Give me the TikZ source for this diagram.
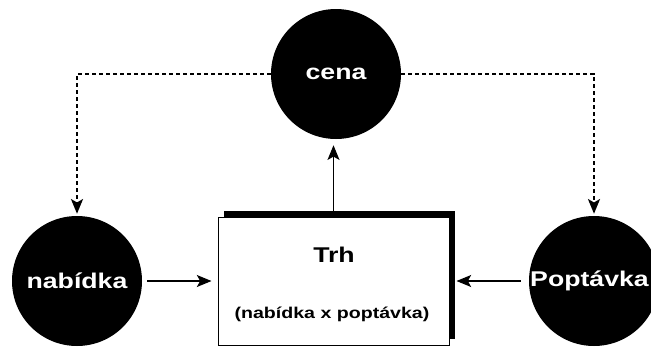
\documentclass[tikz,border=0pt]{standalone}
\usepackage{fontspec}
\usetikzlibrary{arrows.meta,shadows}
\newfontfamily\wideb[FakeStretch=1.25]{Liberation Sans Bold}
\tikzset{
  circ/.style={circle, fill=black, text=white, minimum size=97.5pt, inner sep=0pt, font=\wideb\fontsize{16}{18}\selectfont},
  circtext/.style={text=white, inner sep=0pt, font=\wideb\fontsize{16}{18}\selectfont},
  mainbox/.style={rectangle, draw=black, line width=0.75pt, fill=white, minimum width=173.25pt, minimum height=96pt, inner sep=0pt,
     drop shadow={shadow xshift=4.5pt, shadow yshift=4.5pt, fill=black, opacity=1}},
  titletext/.style={font=\wideb\fontsize{16}{18}\selectfont, inner sep=0pt},
  subtext/.style={font=\wideb\fontsize{11.75}{14}\selectfont, inner sep=0pt},
  arr/.style={line width=0.9pt, -{Stealth[length=11pt,width=9pt,inset=2.5pt]}},
  dasharr/.style={line width=1.5pt, dash pattern=on 3pt off 2.25pt, -{Stealth[length=11pt,width=9pt,inset=2.5pt]}},
}
\begin{document}
\begin{tikzpicture}[x=0.75pt,y=-0.75pt]
\useasboundingbox (0,0) rectangle (651,347);
\node[circ] (cena) at (336,74) {cena};
\node[circ] (nab) at (77,281) {nabídka};
\node[circ] (pop) at (594,281) {};
\node[circtext] (poptext) at (589.5,281) {Poptávka};
\node[mainbox] (box) at (333.5,281) {};
\node[titletext] (trh) at (334,255) {Trh};
\node[subtext] (sub) at (332,314) {(nabídka x poptávka)};
\draw[arr, shorten >=4.5pt] (box.north) -- (box.north |- cena.south);
\draw[arr, shorten <=3.75pt, shorten >=4.5pt] (nab.east) -- (box.west);
\draw[arr, shorten <=6pt, shorten >=5.25pt] (pop.west) -- (box.east);
\draw[dasharr, shorten >=1.5pt] (cena.west) -| (nab.north);
\draw[dasharr, shorten >=1.5pt] (cena.east) -| (pop.north);
\end{tikzpicture}
\end{document}
